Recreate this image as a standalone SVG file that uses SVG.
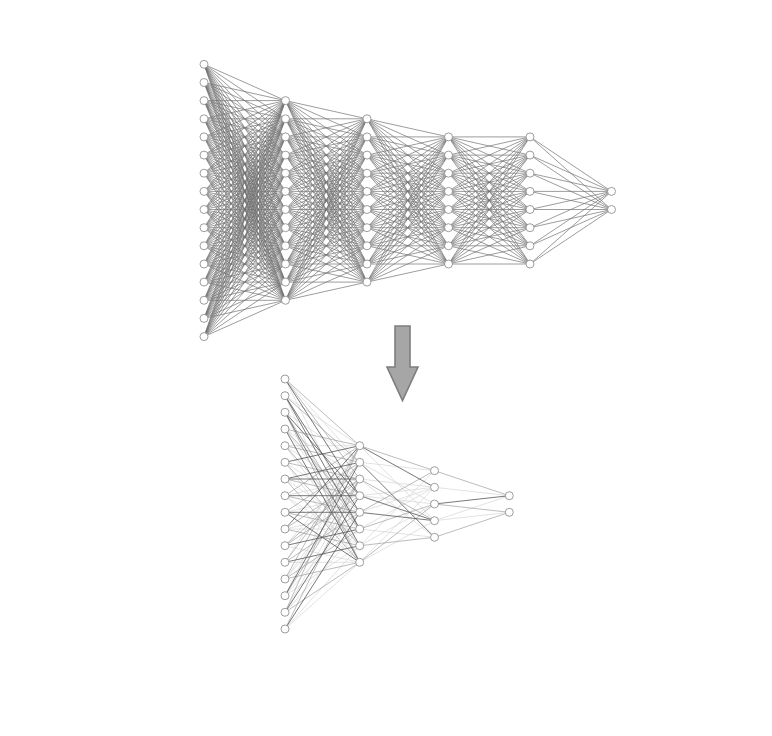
<svg xmlns="http://www.w3.org/2000/svg" width="772" height="736" viewBox="0 0 772 736">
<style>
.e{fill:none;stroke:#727272;stroke-width:0.7;stroke-linejoin:round}
.d{fill:none;stroke:#555;stroke-width:0.8}
.m{fill:none;stroke:#979797;stroke-width:0.65}
.l{fill:none;stroke:#d2d2d2;stroke-width:0.65}
circle{fill:#fff;stroke:#858585;stroke-width:0.8}
.arrow{fill:#a6a6a6;stroke:#7e7e7e;stroke-width:1.6;stroke-linejoin:miter}
</style>
<rect width="772" height="736" fill="#fff"/>
<g id="connectors">
<g id="top-edges">
<path class="e" d="M204 64.3 285.5 100.6 204 82.5 285.5 118.8 204 64.3 285.5 136.9 204 82.5 285.5 155.1 204 64.3 285.5 173.2 204 82.5 285.5 191.4 204 64.3 285.5 209.5 204 82.5 285.5 227.7 204 64.3 285.5 245.8 204 82.5 285.5 264 204 64.3 285.5 282.1 204 82.5 285.5 300.3 204 64.3"/>
<path class="e" d="M204 100.6 285.5 100.6 204 118.8 285.5 118.8 204 100.6 285.5 136.9 204 118.8 285.5 155.1 204 100.6 285.5 173.2 204 118.8 285.5 191.4 204 100.6 285.5 209.5 204 118.8 285.5 227.7 204 100.6 285.5 245.8 204 118.8 285.5 264 204 100.6 285.5 282.1 204 118.8 285.5 300.3 204 100.6"/>
<path class="e" d="M204 136.9 285.5 100.6 204 155.1 285.5 118.8 204 136.9 285.5 136.9 204 155.1 285.5 155.1 204 136.9 285.5 173.2 204 155.1 285.5 191.4 204 136.9 285.5 209.5 204 155.1 285.5 227.7 204 136.9 285.5 245.8 204 155.1 285.5 264 204 136.9 285.5 282.1 204 155.1 285.5 300.3 204 136.9"/>
<path class="e" d="M204 173.2 285.5 100.6 204 191.4 285.5 118.8 204 173.2 285.5 136.9 204 191.4 285.5 155.1 204 173.2 285.5 173.2 204 191.4 285.5 191.4 204 173.2 285.5 209.5 204 191.4 285.5 227.7 204 173.2 285.5 245.8 204 191.4 285.5 264 204 173.2 285.5 282.1 204 191.4 285.5 300.3 204 173.2"/>
<path class="e" d="M204 209.5 285.5 100.6 204 227.7 285.5 118.8 204 209.5 285.5 136.9 204 227.7 285.5 155.1 204 209.5 285.5 173.2 204 227.7 285.5 191.4 204 209.5 285.5 209.5 204 227.7 285.5 227.7 204 209.5 285.5 245.8 204 227.7 285.5 264 204 209.5 285.5 282.1 204 227.7 285.5 300.3 204 209.5"/>
<path class="e" d="M204 245.8 285.5 100.6 204 264 285.5 118.8 204 245.8 285.5 136.9 204 264 285.5 155.1 204 245.8 285.5 173.2 204 264 285.5 191.4 204 245.8 285.5 209.5 204 264 285.5 227.7 204 245.8 285.5 245.8 204 264 285.5 264 204 245.8 285.5 282.1 204 264 285.5 300.3 204 245.8"/>
<path class="e" d="M204 282.1 285.5 100.6 204 300.3 285.5 118.8 204 282.1 285.5 136.9 204 300.3 285.5 155.1 204 282.1 285.5 173.2 204 300.3 285.5 191.4 204 282.1 285.5 209.5 204 300.3 285.5 227.7 204 282.1 285.5 245.8 204 300.3 285.5 264 204 282.1 285.5 282.1 204 300.3 285.5 300.3 204 282.1"/>
<path class="e" d="M204 318.4 285.5 100.6 204 336.6 285.5 118.8 204 318.4 285.5 136.9 204 336.6 285.5 155.1 204 318.4 285.5 173.2 204 336.6 285.5 191.4 204 318.4 285.5 209.5 204 336.6 285.5 227.7 204 318.4 285.5 245.8 204 336.6 285.5 264 204 318.4 285.5 282.1 204 336.6 285.5 300.3 204 318.4"/>
<path class="e" d="M285.5 100.6 367 118.8 285.5 118.8 367 136.9 285.5 100.6 367 155.1 285.5 118.8 367 173.2 285.5 100.6 367 191.4 285.5 118.8 367 209.5 285.5 100.6 367 227.7 285.5 118.8 367 245.8 285.5 100.6 367 264 285.5 118.8 367 282.1 285.5 100.6"/>
<path class="e" d="M285.5 136.9 367 118.8 285.5 155.1 367 136.9 285.5 136.9 367 155.1 285.5 155.1 367 173.2 285.5 136.9 367 191.4 285.5 155.1 367 209.5 285.5 136.9 367 227.7 285.5 155.1 367 245.8 285.5 136.9 367 264 285.5 155.1 367 282.1 285.5 136.9"/>
<path class="e" d="M285.5 173.2 367 118.8 285.5 191.4 367 136.9 285.5 173.2 367 155.1 285.5 191.4 367 173.2 285.5 173.2 367 191.4 285.5 191.4 367 209.5 285.5 173.2 367 227.7 285.5 191.4 367 245.8 285.5 173.2 367 264 285.5 191.4 367 282.1 285.5 173.2"/>
<path class="e" d="M285.5 209.5 367 118.8 285.5 227.7 367 136.9 285.5 209.5 367 155.1 285.5 227.7 367 173.2 285.5 209.5 367 191.4 285.5 227.7 367 209.5 285.5 209.5 367 227.7 285.5 227.7 367 245.8 285.5 209.5 367 264 285.5 227.7 367 282.1 285.5 209.5"/>
<path class="e" d="M285.5 245.8 367 118.8 285.5 264 367 136.9 285.5 245.8 367 155.1 285.5 264 367 173.2 285.5 245.8 367 191.4 285.5 264 367 209.5 285.5 245.8 367 227.7 285.5 264 367 245.8 285.5 245.8 367 264 285.5 264 367 282.1 285.5 245.8"/>
<path class="e" d="M285.5 282.1 367 118.8 285.5 300.3 367 136.9 285.5 282.1 367 155.1 285.5 300.3 367 173.2 285.5 282.1 367 191.4 285.5 300.3 367 209.5 285.5 282.1 367 227.7 285.5 300.3 367 245.8 285.5 282.1 367 264 285.5 300.3 367 282.1 285.5 282.1"/>
<path class="e" d="M367 118.8 448.5 136.9 367 136.9 448.5 155.1 367 118.8 448.5 173.2 367 136.9 448.5 191.4 367 118.8 448.5 209.5 367 136.9 448.5 227.7 367 118.8 448.5 245.8 367 136.9 448.5 264 367 118.8"/>
<path class="e" d="M367 155.1 448.5 136.9 367 173.2 448.5 155.1 367 155.1 448.5 173.2 367 173.2 448.5 191.4 367 155.1 448.5 209.5 367 173.2 448.5 227.7 367 155.1 448.5 245.8 367 173.2 448.5 264 367 155.1"/>
<path class="e" d="M367 191.4 448.5 136.9 367 209.5 448.5 155.1 367 191.4 448.5 173.2 367 209.5 448.5 191.4 367 191.4 448.5 209.5 367 209.5 448.5 227.7 367 191.4 448.5 245.8 367 209.5 448.5 264 367 191.4"/>
<path class="e" d="M367 227.7 448.5 136.9 367 245.8 448.5 155.1 367 227.7 448.5 173.2 367 245.8 448.5 191.4 367 227.7 448.5 209.5 367 245.8 448.5 227.7 367 227.7 448.5 245.8 367 245.8 448.5 264 367 227.7"/>
<path class="e" d="M367 264 448.5 136.9 367 282.1 448.5 155.1 367 264 448.5 173.2 367 282.1 448.5 191.4 367 264 448.5 209.5 367 282.1 448.5 227.7 367 264 448.5 245.8 367 282.1 448.5 264 367 264"/>
<path class="e" d="M448.5 136.9 530 136.9 448.5 155.1 530 155.1 448.5 136.9 530 173.2 448.5 155.1 530 191.4 448.5 136.9 530 209.5 448.5 155.1 530 227.7 448.5 136.9 530 245.8 448.5 155.1 530 264 448.5 136.9"/>
<path class="e" d="M448.5 173.2 530 136.9 448.5 191.4 530 155.1 448.5 173.2 530 173.2 448.5 191.4 530 191.4 448.5 173.2 530 209.5 448.5 191.4 530 227.7 448.5 173.2 530 245.8 448.5 191.4 530 264 448.5 173.2"/>
<path class="e" d="M448.5 209.5 530 136.9 448.5 227.7 530 155.1 448.5 209.5 530 173.2 448.5 227.7 530 191.4 448.5 209.5 530 209.5 448.5 227.7 530 227.7 448.5 209.5 530 245.8 448.5 227.7 530 264 448.5 209.5"/>
<path class="e" d="M448.5 245.8 530 136.9 448.5 264 530 155.1 448.5 245.8 530 173.2 448.5 264 530 191.4 448.5 245.8 530 209.5 448.5 264 530 227.7 448.5 245.8 530 245.8 448.5 264 530 264 448.5 245.8"/>
<path class="e" d="M530 136.9 611.5 191.4 530 155.1 611.5 209.5 530 136.9"/>
<path class="e" d="M530 173.2 611.5 191.4 530 191.4 611.5 209.5 530 173.2"/>
<path class="e" d="M530 209.5 611.5 191.4 530 227.7 611.5 209.5 530 209.5"/>
<path class="e" d="M530 245.8 611.5 191.4 530 264 611.5 209.5 530 245.8"/>
</g>
<g id="bottom-edges">
<path class="l" d="M285 379L359.7 529M285 395.7L359.7 445.7M285 395.7L359.7 562.3M285 412.3L359.7 462.3M285 429L359.7 479M285 445.7L359.7 445.7M285 445.7L359.7 495.7M285 445.7L359.7 545.7M285 462.3L359.7 512.3M285 462.3L359.7 562.3M285 479L359.7 529M285 495.7L359.7 479M285 495.7L359.7 545.7M285 512.3L359.7 495.7M285 529L359.7 512.3M285 529L359.7 529M285 545.7L359.7 462.3M285 545.7L359.7 562.3M285 562.3L359.7 445.7M285 562.3L359.7 562.3M285 579L359.7 479M285 579L359.7 495.7M285 595.7L359.7 512.3M285 595.7L359.7 545.7M285 612.3L359.7 529M285 629L359.7 545.7M285 629L359.7 562.3M285 379L359.7 462.3M285 429L359.7 529M285 495.7L359.7 562.3M285 595.7L359.7 445.7M285 612.3L359.7 479M359.7 445.7L434.5 520.7M359.7 462.3L434.5 470.7M359.7 462.3L434.5 504M359.7 479L434.5 487.3M359.7 495.7L434.5 504M359.7 495.7L434.5 487.3M359.7 512.3L434.5 487.3M359.7 529L434.5 487.3M359.7 529L434.5 537.3M359.7 545.7L434.5 470.7M359.7 545.7L434.5 504M359.7 562.3L434.5 520.7M359.7 479L434.5 537.3M359.7 562.3L434.5 487.3M434.5 487.3L509.3 495.7M434.5 520.7L509.3 495.7M434.5 520.7L509.3 512.3"/>
<path class="m" d="M285 379L359.7 445.7M285 379L359.7 479M285 395.7L359.7 462.3M285 412.3L359.7 529M285 412.3L359.7 562.3M285 429L359.7 445.7M285 429L359.7 512.3M285 445.7L359.7 462.3M285 445.7L359.7 529M285 462.3L359.7 479M285 462.3L359.7 545.7M285 479L359.7 495.7M285 479L359.7 562.3M285 495.7L359.7 445.7M285 495.7L359.7 512.3M285 512.3L359.7 462.3M285 512.3L359.7 529M285 529L359.7 479M285 529L359.7 545.7M285 545.7L359.7 479M285 545.7L359.7 495.7M285 562.3L359.7 462.3M285 562.3L359.7 512.3M285 579L359.7 445.7M285 579L359.7 529M285 579L359.7 562.3M285 595.7L359.7 479M285 612.3L359.7 445.7M285 612.3L359.7 562.3M285 629L359.7 479M359.7 445.7L434.5 470.7M359.7 479L434.5 520.7M359.7 512.3L434.5 470.7M359.7 529L434.5 504M359.7 545.7L434.5 537.3M359.7 562.3L434.5 504M434.5 470.7L509.3 495.7M434.5 504L509.3 512.3M434.5 537.3L509.3 512.3"/>
<path class="d" d="M285 379L359.7 495.7M285 395.7L359.7 512.3M285 395.7L359.7 529M285 412.3L359.7 495.7M285 412.3L359.7 545.7M285 429L359.7 562.3M285 462.3L359.7 445.7M285 479L359.7 462.3M285 479L359.7 479M285 495.7L359.7 495.7M285 512.3L359.7 512.3M285 512.3L359.7 562.3M285 529L359.7 445.7M285 545.7L359.7 529M285 562.3L359.7 545.7M285 595.7L359.7 462.3M285 612.3L359.7 495.7M285 629L359.7 512.3M359.7 445.7L434.5 487.3M359.7 462.3L434.5 537.3M359.7 495.7L434.5 520.7M359.7 512.3L434.5 520.7M434.5 504L509.3 495.7"/>
</g>
</g>
<g id="nodes-top">
<g id="t1-1"><circle cx="204" cy="64.3" r="4"/></g>
<g id="t1-2"><circle cx="204" cy="82.5" r="4"/></g>
<g id="t1-3"><circle cx="204" cy="100.6" r="4"/></g>
<g id="t1-4"><circle cx="204" cy="118.8" r="4"/></g>
<g id="t1-5"><circle cx="204" cy="136.9" r="4"/></g>
<g id="t1-6"><circle cx="204" cy="155.1" r="4"/></g>
<g id="t1-7"><circle cx="204" cy="173.2" r="4"/></g>
<g id="t1-8"><circle cx="204" cy="191.4" r="4"/></g>
<g id="t1-9"><circle cx="204" cy="209.5" r="4"/></g>
<g id="t1-10"><circle cx="204" cy="227.7" r="4"/></g>
<g id="t1-11"><circle cx="204" cy="245.8" r="4"/></g>
<g id="t1-12"><circle cx="204" cy="264" r="4"/></g>
<g id="t1-13"><circle cx="204" cy="282.1" r="4"/></g>
<g id="t1-14"><circle cx="204" cy="300.3" r="4"/></g>
<g id="t1-15"><circle cx="204" cy="318.4" r="4"/></g>
<g id="t1-16"><circle cx="204" cy="336.6" r="4"/></g>
<g id="t2-1"><circle cx="285.5" cy="100.6" r="4"/></g>
<g id="t2-2"><circle cx="285.5" cy="118.8" r="4"/></g>
<g id="t2-3"><circle cx="285.5" cy="136.9" r="4"/></g>
<g id="t2-4"><circle cx="285.5" cy="155.1" r="4"/></g>
<g id="t2-5"><circle cx="285.5" cy="173.2" r="4"/></g>
<g id="t2-6"><circle cx="285.5" cy="191.4" r="4"/></g>
<g id="t2-7"><circle cx="285.5" cy="209.5" r="4"/></g>
<g id="t2-8"><circle cx="285.5" cy="227.7" r="4"/></g>
<g id="t2-9"><circle cx="285.5" cy="245.8" r="4"/></g>
<g id="t2-10"><circle cx="285.5" cy="264" r="4"/></g>
<g id="t2-11"><circle cx="285.5" cy="282.1" r="4"/></g>
<g id="t2-12"><circle cx="285.5" cy="300.3" r="4"/></g>
<g id="t3-1"><circle cx="367" cy="118.8" r="4"/></g>
<g id="t3-2"><circle cx="367" cy="136.9" r="4"/></g>
<g id="t3-3"><circle cx="367" cy="155.1" r="4"/></g>
<g id="t3-4"><circle cx="367" cy="173.2" r="4"/></g>
<g id="t3-5"><circle cx="367" cy="191.4" r="4"/></g>
<g id="t3-6"><circle cx="367" cy="209.5" r="4"/></g>
<g id="t3-7"><circle cx="367" cy="227.7" r="4"/></g>
<g id="t3-8"><circle cx="367" cy="245.8" r="4"/></g>
<g id="t3-9"><circle cx="367" cy="264" r="4"/></g>
<g id="t3-10"><circle cx="367" cy="282.1" r="4"/></g>
<g id="t4-1"><circle cx="448.5" cy="136.9" r="4"/></g>
<g id="t4-2"><circle cx="448.5" cy="155.1" r="4"/></g>
<g id="t4-3"><circle cx="448.5" cy="173.2" r="4"/></g>
<g id="t4-4"><circle cx="448.5" cy="191.4" r="4"/></g>
<g id="t4-5"><circle cx="448.5" cy="209.5" r="4"/></g>
<g id="t4-6"><circle cx="448.5" cy="227.7" r="4"/></g>
<g id="t4-7"><circle cx="448.5" cy="245.8" r="4"/></g>
<g id="t4-8"><circle cx="448.5" cy="264" r="4"/></g>
<g id="t5-1"><circle cx="530" cy="136.9" r="4"/></g>
<g id="t5-2"><circle cx="530" cy="155.1" r="4"/></g>
<g id="t5-3"><circle cx="530" cy="173.2" r="4"/></g>
<g id="t5-4"><circle cx="530" cy="191.4" r="4"/></g>
<g id="t5-5"><circle cx="530" cy="209.5" r="4"/></g>
<g id="t5-6"><circle cx="530" cy="227.7" r="4"/></g>
<g id="t5-7"><circle cx="530" cy="245.8" r="4"/></g>
<g id="t5-8"><circle cx="530" cy="264" r="4"/></g>
<g id="t6-1"><circle cx="611.5" cy="191.4" r="4"/></g>
<g id="t6-2"><circle cx="611.5" cy="209.5" r="4"/></g>
</g>
<g id="nodes-bottom">
<g id="b1-1"><circle cx="285" cy="379" r="4"/></g>
<g id="b1-2"><circle cx="285" cy="395.7" r="4"/></g>
<g id="b1-3"><circle cx="285" cy="412.3" r="4"/></g>
<g id="b1-4"><circle cx="285" cy="429" r="4"/></g>
<g id="b1-5"><circle cx="285" cy="445.7" r="4"/></g>
<g id="b1-6"><circle cx="285" cy="462.3" r="4"/></g>
<g id="b1-7"><circle cx="285" cy="479" r="4"/></g>
<g id="b1-8"><circle cx="285" cy="495.7" r="4"/></g>
<g id="b1-9"><circle cx="285" cy="512.3" r="4"/></g>
<g id="b1-10"><circle cx="285" cy="529" r="4"/></g>
<g id="b1-11"><circle cx="285" cy="545.7" r="4"/></g>
<g id="b1-12"><circle cx="285" cy="562.3" r="4"/></g>
<g id="b1-13"><circle cx="285" cy="579" r="4"/></g>
<g id="b1-14"><circle cx="285" cy="595.7" r="4"/></g>
<g id="b1-15"><circle cx="285" cy="612.3" r="4"/></g>
<g id="b1-16"><circle cx="285" cy="629" r="4"/></g>
<g id="b2-1"><circle cx="359.7" cy="445.7" r="4"/></g>
<g id="b2-2"><circle cx="359.7" cy="462.3" r="4"/></g>
<g id="b2-3"><circle cx="359.7" cy="479" r="4"/></g>
<g id="b2-4"><circle cx="359.7" cy="495.7" r="4"/></g>
<g id="b2-5"><circle cx="359.7" cy="512.3" r="4"/></g>
<g id="b2-6"><circle cx="359.7" cy="529" r="4"/></g>
<g id="b2-7"><circle cx="359.7" cy="545.7" r="4"/></g>
<g id="b2-8"><circle cx="359.7" cy="562.3" r="4"/></g>
<g id="b3-1"><circle cx="434.5" cy="470.7" r="4"/></g>
<g id="b3-2"><circle cx="434.5" cy="487.3" r="4"/></g>
<g id="b3-3"><circle cx="434.5" cy="504" r="4"/></g>
<g id="b3-4"><circle cx="434.5" cy="520.7" r="4"/></g>
<g id="b3-5"><circle cx="434.5" cy="537.3" r="4"/></g>
<g id="b4-1"><circle cx="509.3" cy="495.7" r="4"/></g>
<g id="b4-2"><circle cx="509.3" cy="512.3" r="4"/></g>
</g>
<g id="arrow">
<polygon class="arrow" points="395,326 410,326 410,367 418,367 402.5,400.5 387,367 395,367"/>
</g>
</svg>
